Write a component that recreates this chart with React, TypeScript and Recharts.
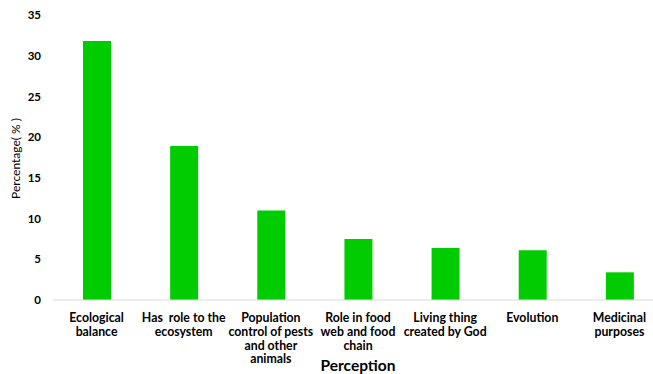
import React from "react";
import { BarChart, Bar, XAxis, YAxis, Label } from "recharts";

const perceptions = [
  "Ecological\nbalance",
  "Has  role to the\necosystem",
  "Population\ncontrol of pests\nand other\nanimals",
  "Role in food\nweb and food\nchain",
  "Living thing\ncreated by God",
  "Evolution",
  "Medicinal\npurposes",
];
const percentages = [31.8, 18.9, 11.0, 7.5, 6.4, 6.1, 3.4];
const yTicks = [0, 5, 10, 15, 20, 25, 30, 35];

const data = perceptions.map((p, i) => ({ name: p, value: percentages[i] }));

const FONT = "Lato, 'Open Sans', sans-serif";

function CategoryTick(props: any) {
  const { x, y, payload } = props;
  const lines: string[] = String(payload.value).split("\n");
  return (
    <text
      x={x}
      y={y}
      textAnchor="middle"
      fontFamily={FONT}
      fontWeight={700}
      fontSize={12.3}
      fill="#000"
    >
      {lines.map((l, i) => (
        <tspan key={i} x={x} dy={i === 0 ? 14 : 13.8} style={{ whiteSpace: "pre" }}>
          {l}
        </tspan>
      ))}
    </text>
  );
}

export default function App() {
  return (
    <div
      style={{
        position: "absolute",
        left: 0,
        top: 0,
        width: 653,
        height: 374,
        overflow: "hidden",
        background: "#fff",
      }}
    >
      <BarChart
        width={663}
        height={374}
        data={data}
        margin={{ top: 15, right: 0, bottom: 0, left: 0 }}
      >
        <XAxis
          dataKey="name"
          interval={0}
          height={74}
          axisLine={{ stroke: "#d9d9d9" }}
          tickLine={false}
          tick={<CategoryTick />}
        >
          <Label
            value="Perception"
            position="insideBottom"
            offset={3}
            fontFamily={FONT}
            fontWeight={700}
            fontSize={15.5}
            fill="#000"
          />
        </XAxis>
        <YAxis
          width={53}
          domain={[0, 35]}
          ticks={yTicks}
          axisLine={false}
          tickLine={false}
          tickMargin={6}
          tick={{ fontFamily: FONT, fontWeight: 700, fontSize: 11.5, fill: "#000" }}
        >
          <Label
            content={(p: any) => {
              const vb = p.viewBox;
              const cx = vb.x + 20;
              const cy = vb.y + vb.height / 2 + 1;
              return (
                <text
                  x={cx}
                  y={cy}
                  transform={`rotate(-90 ${cx} ${cy})`}
                  textAnchor="middle"
                  fontFamily={FONT}
                  fontSize={12}
                  fill="#000"
                >
                  Percentage( % )
                </text>
              );
            }}
          />
        </YAxis>
        <Bar dataKey="value" fill="#00cc00" barSize={28} isAnimationActive={false} />
      </BarChart>
    </div>
  );
}
